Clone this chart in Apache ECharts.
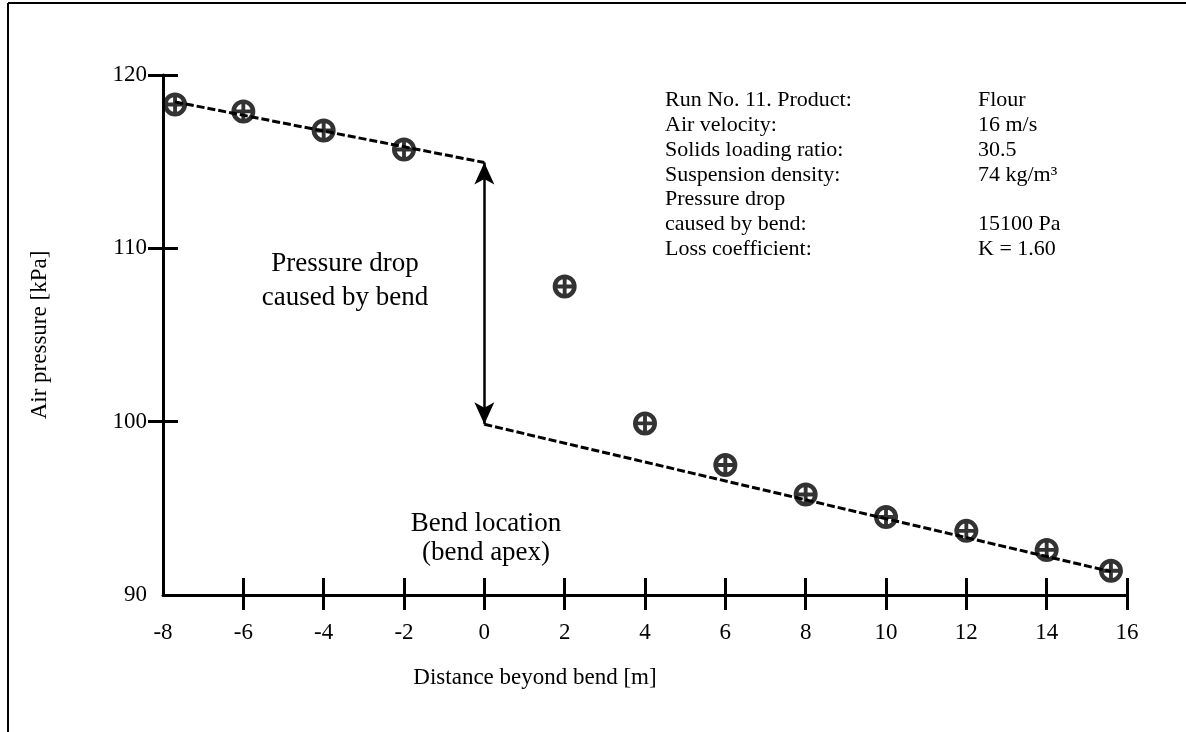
<!DOCTYPE html>
<html>
<head>
<meta charset="utf-8">
<title>Air pressure along the pipeline around a bend</title>
<script src="https://cdn.jsdelivr.net/npm/echarts@6/dist/echarts.min.js"></script>
<style>
  html, body { margin: 0; padding: 0; background: #fff; }
  #chart { width: 1186px; height: 732px; }
</style>
</head>
<body>
<div id="chart"></div>
<script>
// Measured pressures along the line (distance from bend apex, m -> kPa)
var distance = [-7.7, -6, -4, -2, 2, 4, 6, 8, 10, 12, 14, 15.6];
var pressure = [118.3, 117.9, 116.8, 115.7, 107.8, 99.9, 97.5, 95.8, 94.5, 93.7, 92.6, 91.4];

// Straight-pipe pressure gradients before and after the bend
var upstreamX = [-7.7, 0];
var upstreamP = [118.45, 114.95];
var downstreamX = [0, 15.6];
var downstreamP = [99.85, 91.35];

// Axis ranges and tick spacing
var xTicks = [-8, 16, 2];
var yTicks = [90, 120, 10];

// Run description
var infoLabels = ['Run No. 11. Product:', 'Air velocity:', 'Solids loading ratio:',
  'Suspension density:', 'Pressure drop', 'caused by bend:', 'Loss coefficient:'];
var infoValues = ['Flour', '16 m/s', '30.5', '74 kg/m\u00b3', '', '15100 Pa', 'K = 1.60'];

var FONT = '"Liberation Serif", "Times New Roman", serif';

function pairs(xs, ys) {
  return xs.map(function (x, i) { return [x, ys[i]]; });
}
function range(a, b, step) {
  var out = [];
  for (var v = a; v <= b + 1e-9; v += step) out.push(v);
  return out;
}

// circled-plus marker: ring plus a cross
var CIRCLE_PLUS = 'path://M10 0A10 10 0 1 1 10 20A10 10 0 1 1 10 0Z' +
  'M10 3.7A6.3 6.3 0 1 0 10 16.3A6.3 6.3 0 1 0 10 3.7Z' +
  'M8.4 1H11.6V19H8.4Z' +
  'M1 8.4H19V11.6H1Z';

var xTickVals = range(xTicks[0] + xTicks[2], xTicks[1], xTicks[2]);
var yTickVals = range(yTicks[0] + yTicks[2], yTicks[1], yTicks[2]);

var axisCommonX = {
  type: 'value', min: xTicks[0], max: xTicks[1], interval: xTicks[2],
  position: 'bottom', splitLine: { show: false }
};
var axisCommonY = {
  type: 'value', min: yTicks[0], max: yTicks[1], interval: yTicks[2],
  position: 'left', splitLine: { show: false }
};

var chart = echarts.init(document.getElementById('chart'), null, { renderer: 'canvas' });

chart.setOption({
  backgroundColor: '#ffffff',
  animation: false,
  grid: { left: 163, right: 59, top: 75, bottom: 137, containLabel: false },
  xAxis: [
    Object.assign({}, axisCommonX, {
      axisLine: { onZero: false, lineStyle: { color: '#000', width: 3 } },
      axisTick: { inside: false, length: 15, lineStyle: { color: '#000', width: 3 }, customValues: xTickVals },
      axisLabel: { margin: 26, fontFamily: FONT, fontSize: 23, color: '#000' }
    }),
    Object.assign({}, axisCommonX, {
      axisLine: { show: false, onZero: false },
      axisTick: { inside: true, length: 17, lineStyle: { color: '#000', width: 3 }, customValues: xTickVals },
      axisLabel: { show: false }
    })
  ],
  yAxis: [
    Object.assign({}, axisCommonY, {
      name: 'Air pressure [kPa]',
      nameLocation: 'middle',
      nameGap: 112,
      nameRotate: 90,
      nameTextStyle: { fontFamily: FONT, fontSize: 23, color: '#000' },
      axisLine: { onZero: false, lineStyle: { color: '#000', width: 3 } },
      axisTick: { inside: false, length: 15, lineStyle: { color: '#000', width: 3 }, customValues: yTickVals },
      axisLabel: { margin: 16, fontFamily: FONT, fontSize: 23, color: '#000' }
    }),
    Object.assign({}, axisCommonY, {
      axisLine: { show: false, onZero: false },
      axisTick: { inside: true, length: 15, lineStyle: { color: '#000', width: 3 }, customValues: yTickVals },
      axisLabel: { show: false }
    })
  ],
  series: [
    {
      name: 'upstream gradient',
      type: 'line',
      data: pairs(upstreamX, upstreamP),
      showSymbol: false,
      lineStyle: { color: '#000', width: 3, type: [8, 3] },
      z: 2
    },
    {
      name: 'downstream gradient',
      type: 'line',
      data: pairs(downstreamX, downstreamP),
      showSymbol: false,
      lineStyle: { color: '#000', width: 3, type: [8, 3] },
      z: 2,
      markLine: {
        silent: true,
        symbol: ['arrow', 'arrow'],
        symbolSize: [15, 22],
        label: { show: false },
        lineStyle: { color: '#000', width: 2.5, type: 'solid' },
        data: [[
          { coord: [upstreamX[1], upstreamP[1]] },
          { coord: [downstreamX[0], downstreamP[0]] }
        ]]
      }
    },
    {
      name: 'measured',
      type: 'scatter',
      data: pairs(distance, pressure),
      symbol: CIRCLE_PLUS,
      symbolSize: 24,
      itemStyle: { color: '#000' },
      z: 3
    }
  ],
  graphic: [
    // frame lines
    { type: 'line', shape: { x1: 8, y1: 3, x2: 1186, y2: 3 }, style: { stroke: '#000', lineWidth: 2 } },
    { type: 'line', shape: { x1: 8, y1: 3, x2: 8, y2: 732 }, style: { stroke: '#000', lineWidth: 2 } },
    {
      type: 'text', left: 665, top: 88,
      style: { text: infoLabels.join('\n'), fontFamily: FONT, fontSize: 22, lineHeight: 24.8, fill: '#000' }
    },
    {
      type: 'text', left: 978, top: 88,
      style: { text: infoValues.join('\n'), fontFamily: FONT, fontSize: 22, lineHeight: 24.8, fill: '#000' }
    },
    {
      type: 'text', x: 345, y: 281,
      style: { text: 'Pressure drop\ncaused by bend', fontFamily: FONT, fontSize: 27, lineHeight: 34,
        fill: '#000', align: 'center', verticalAlign: 'middle' }
    },
    {
      type: 'text', x: 486, y: 538,
      style: { text: 'Bend location\n(bend apex)', fontFamily: FONT, fontSize: 27, lineHeight: 29,
        fill: '#000', align: 'center', verticalAlign: 'middle' }
    },
    {
      type: 'text', x: 535, y: 678,
      style: { text: 'Distance beyond bend [m]', fontFamily: FONT, fontSize: 23,
        fill: '#000', align: 'center', verticalAlign: 'middle' }
    }
  ]
});
</script>
</body>
</html>
